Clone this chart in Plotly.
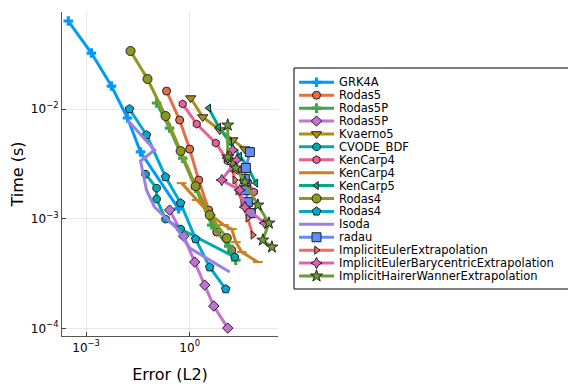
import plotly.graph_objects as go

# ---------------- data (error L2, time s) ----------------
series_names = ["GRK4A", "Rodas5", "Rodas5P", "Rodas5P", "Kvaerno5", "CVODE_BDF",
                "KenCarp4", "KenCarp4", "KenCarp5", "Rodas4", "Rodas4", "Isoda",
                "radau", "ImplicitEulerExtrapolation",
                "ImplicitEulerBarycentricExtrapolation",
                "ImplicitHairerWannerExtrapolation"]

err_grk4a = [3.04e-4, 1.42e-3, 5.41e-3, 1.58e-2, 3.77e-2, 0.479]
time_grk4a = [0.0635, 0.0324, 0.0162, 0.00828, 0.00406, 0.00123]

err_rodas5 = [0.214, 0.512, 1.0, 1.83, 3.57, 6.09, 16.6]
time_rodas5 = [0.01459, 0.00794, 0.00431, 0.00225, 0.001197, 0.000755, 0.000517]

err_rodas5p_a = [0.110, 0.262, 0.626, 1.49, 4.36, 13.6, 21.7]
time_rodas5p_a = [0.01135, 0.00671, 0.00357, 0.0019, 0.000875, 0.000562, 0.000419]

err_rodas5p_b = [0.262, 0.670, 1.40, 2.73, 4.99, 12.7]
time_rodas5p_b = [0.001197, 0.000693, 0.000402, 0.000248, 0.0001596, 0.0001005]

err_kvaerno5 = [1.07, 2.39, 7.45, 17.8, 39.7]
time_kvaerno5 = [0.01259, 0.00845, 0.00643, 0.00521, 0.00431]

err_cvode = [0.0526, 0.110, 0.110, 0.2005, 0.547, 20.3]
time_cvode = [0.00255, 0.0019, 0.00151, 0.000991, 0.000804, 0.000447]

err_kencarp4_a = [0.626, 1.60, 5.70, 12.7, 24.9, 48.5, 72.5]
time_kencarp4_a = [0.01112, 0.0073, 0.0049, 0.00336, 0.00277, 0.00216, 0.00175]

err_kencarp4_b = [0.585, 1.60, 4.08, 9.73, 16.6, 21.7, 32.5, 94.8]
time_kencarp4_b = [0.00211, 0.00148, 0.001079, 0.000875, 0.000804, 0.000611, 0.000496, 0.000402]

err_kencarp5 = [3.57, 6.97, 14.5, 28.4, 48.5, 82.9]
time_kencarp5 = [0.0102, 0.00685, 0.0050, 0.00372, 0.00296, 0.00211]

err_rodas4_a = [0.0193, 0.0601, 0.2005, 0.547, 1.49, 3.81, 11.9]
time_rodas4_a = [0.0338, 0.0188, 0.00863, 0.00414, 0.00198, 0.001079, 0.000665]

err_rodas4_b = [0.0180, 0.0562, 0.2005, 0.547, 1.49, 3.81, 11.1]
time_rodas4_b = [0.0100, 0.0058, 0.0024, 0.001387, 0.000652, 0.000361, 0.000228]

err_isoda = [0.0158, 0.0961, 0.0377, 0.0562, 0.0961, 0.419, 1.0, 14.5]
time_isoda = [0.00794, 0.00423, 0.00336, 0.00182, 0.001276, 0.00082, 0.00054, 0.000326]

err_radau = [55.5, 42.5, 39.7, 42.5, 48.5, 59.3]
time_radau = [0.00405, 0.0029, 0.0023, 0.00182, 0.001416, 0.001125]

err_iee = [13.6, 16.6, 20.3, 24.9, 34.7, 48.5, 67.8]
time_iee = [0.00397, 0.0029, 0.00225, 0.00179, 0.001387, 0.001012, 0.000708]

err_iebe = [17.8, 12.7, 23.2, 8.51, 28.4, 39.7, 151.0]
time_iebe = [0.00423, 0.00357, 0.00343, 0.00225, 0.00182, 0.001276, 0.000912]

err_ihwe = [12.7, 12.7, 21.7, 39.7, 94.8, 198.0, 132.0, 242.0]
time_ihwe = [0.00714, 0.00365, 0.0029, 0.00216, 0.00133, 0.000912, 0.000638, 0.000551]

x_tick_vals = [1e-3, 1e0]
x_tick_text = ["10<sup>−3</sup>", "10<sup>0</sup>"]
y_tick_vals = [1e-4, 1e-3, 1e-2]
y_tick_text = ["10<sup>−4</sup>", "10<sup>−3</sup>", "10<sup>−2</sup>"]

# ---------------- styles ----------------
all_data = [
    (err_grk4a, time_grk4a), (err_rodas5, time_rodas5), (err_rodas5p_a, time_rodas5p_a),
    (err_rodas5p_b, time_rodas5p_b), (err_kvaerno5, time_kvaerno5), (err_cvode, time_cvode),
    (err_kencarp4_a, time_kencarp4_a), (err_kencarp4_b, time_kencarp4_b),
    (err_kencarp5, time_kencarp5), (err_rodas4_a, time_rodas4_a), (err_rodas4_b, time_rodas4_b),
    (err_isoda, time_isoda), (err_radau, time_radau), (err_iee, time_iee),
    (err_iebe, time_iebe), (err_ihwe, time_ihwe)]

colors = ["#009AFA", "#E36F47", "#3EA44E", "#C371D2", "#AC8E18", "#00A9AD",
          "#ED5F92", "#C68225", "#00A98D", "#8E971E", "#00A9CD", "#9B7FE9",
          "#618DF6", "#F16C5F", "#DD64B5", "#6B9E32"]
symbols = ["cross", "circle", "cross", "diamond", "triangle-down", "octagon",
           "hexagon", "line-ew", "triangle-left", "circle", "pentagon", None,
           "square", "triangle-right", "star-diamond", "star"]
sizes = [8, 8, 8, 8, 9, 8, 8, 7, 7, 9, 9, 0, 9, 7, 8, 9]

FONT = "DejaVu Sans"

def marker_style(i):
    sym = symbols[i]
    if sym == "cross":
        return dict(symbol=sym, size=sizes[i], color=colors[i], line=dict(width=0))
    if sym == "line-ew":
        return dict(symbol=sym, size=sizes[i], color=colors[i],
                    line=dict(width=2, color=colors[i]))
    return dict(symbol=sym, size=sizes[i], color=colors[i],
                line=dict(width=1, color="#222222"))

fig = go.Figure()

for i, (ex, ty) in enumerate(all_data):
    mode = "lines" if symbols[i] is None else "lines+markers"
    kw = dict(marker=marker_style(i)) if symbols[i] is not None else {}
    fig.add_trace(go.Scatter(x=ex, y=ty, mode=mode, name=series_names[i],
                             line=dict(color=colors[i], width=3),
                             xaxis="x", yaxis="y", showlegend=False, **kw))

# ---------------- legend (drawn in its own small axes) ----------------
annotations = []
for k, nm in enumerate(series_names):
    fig.add_trace(go.Scatter(x=[5, 40], y=[k, k], mode="lines",
                             line=dict(color=colors[k], width=3),
                             xaxis="x2", yaxis="y2", showlegend=False,
                             hoverinfo="skip"))
    if symbols[k] is not None:
        fig.add_trace(go.Scatter(x=[22.5], y=[k], mode="markers",
                                 marker=marker_style(k),
                                 xaxis="x2", yaxis="y2", showlegend=False,
                                 hoverinfo="skip"))
    annotations.append(dict(x=44, y=k, xref="x2", yref="y2", text=nm,
                            showarrow=False, xanchor="left", yanchor="middle",
                            borderpad=0,
                            font=dict(family=FONT, size=11.5, color="black")))

# page body adds an 8px offset; figure is sized to fill the rest of the window
W, H = 568, 376
fig.update_layout(
    width=W, height=H,
    margin=dict(l=0, r=0, t=0, b=0),
    paper_bgcolor="white", plot_bgcolor="white",
    font=dict(family=FONT, size=12, color="black"),
    showlegend=False,
    xaxis=dict(type="log", range=[-3.70, 2.56], domain=[54 / W, 270 / W], anchor="y",
               tickvals=x_tick_vals, ticktext=x_tick_text, ticks="inside", ticklen=4,
               tickcolor="#444", showline=True, linecolor="#555", linewidth=1.2,
               showgrid=True, gridcolor="rgba(0,0,0,0.09)", gridwidth=1, zeroline=False,
               tickfont=dict(family=FONT, size=12),
               title=dict(text="Error (L2)", font=dict(family=FONT, size=16), standoff=16)),
    yaxis=dict(type="log", range=[-4.07, -1.115], domain=[48 / H, 372 / H], anchor="x",
               tickvals=y_tick_vals, ticktext=y_tick_text, ticks="inside", ticklen=4,
               tickcolor="#444", showline=True, linecolor="#555", linewidth=1.2,
               showgrid=True, gridcolor="rgba(0,0,0,0.09)", gridwidth=1, zeroline=False,
               tickfont=dict(family=FONT, size=12),
               title=dict(text="Time (s)", font=dict(family=FONT, size=16), standoff=8)),
    xaxis2=dict(domain=[286 / W, 565 / W], range=[0, 279], anchor="y2", visible=False,
                fixedrange=True),
    yaxis2=dict(domain=[95 / H, 316 / H], range=[16.008, -1.109], anchor="x2",
                visible=False, fixedrange=True),
    shapes=[dict(type="rect", xref="x2 domain", yref="y2 domain", x0=0, x1=1, y0=0, y1=1,
                 line=dict(color="black", width=1), fillcolor="white", layer="below")],
    annotations=annotations,
)

fig.write_html("out.html")
